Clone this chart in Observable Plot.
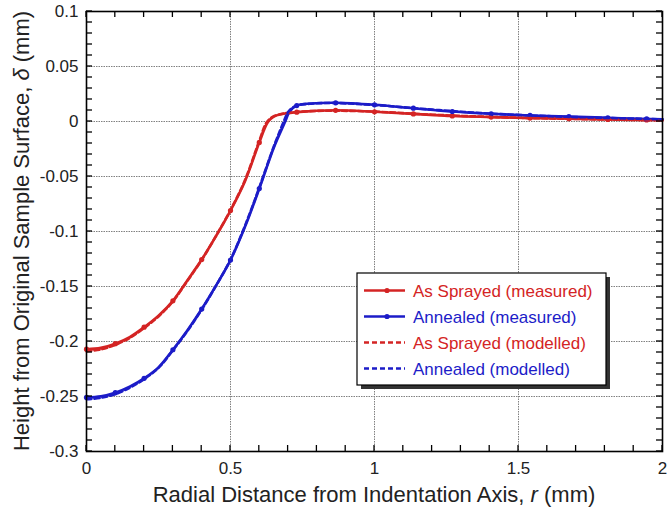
<!DOCTYPE html>
<html>
<head>
<meta charset="utf-8">
<script src="https://cdn.jsdelivr.net/npm/d3@7"></script>
<script src="https://cdn.jsdelivr.net/npm/@observablehq/plot@0.6"></script>
<style>
  html, body { margin: 0; padding: 0; background: #fff; }
  #chart { position: relative; width: 667px; height: 509px; }
</style>
</head>
<body>
<div id="chart"></div>
<script>
// ---- Data ----
// As Sprayed (measured)
const rSprayMeas = [0, 0.05, 0.1, 0.15, 0.2, 0.25, 0.3, 0.35, 0.4, 0.45, 0.5, 0.55, 0.6, 0.63, 0.65, 0.68, 0.73, 0.865, 1.0, 1.135, 1.27, 1.405, 1.54, 1.675, 1.81, 1.945, 2.0];
const dSprayMeas = [-0.2070, -0.2058, -0.2020, -0.1960, -0.1870, -0.1765, -0.1630, -0.1445, -0.1255, -0.1040, -0.0810, -0.0545, -0.0190, -0.0005, 0.0045, 0.0068, 0.0085, 0.0102, 0.0088, 0.0069, 0.0050, 0.0040, 0.0031, 0.0025, 0.0019, 0.0014, 0.0012];
// Annealed (measured)
const rAnnealMeas = [0, 0.05, 0.1, 0.15, 0.2, 0.25, 0.3, 0.35, 0.4, 0.45, 0.5, 0.55, 0.6, 0.65, 0.69, 0.705, 0.73, 0.78, 0.865, 1.0, 1.135, 1.27, 1.405, 1.54, 1.675, 1.81, 1.945, 2.0];
const dAnnealMeas = [-0.2508, -0.2497, -0.2465, -0.2410, -0.2335, -0.2235, -0.2075, -0.1900, -0.1705, -0.1490, -0.1260, -0.0960, -0.0610, -0.0240, 0.0000, 0.0090, 0.0145, 0.0163, 0.0170, 0.0152, 0.0121, 0.0091, 0.0070, 0.0055, 0.0045, 0.0034, 0.0023, 0.0020];
// r positions carrying a marker on the measured curves
const markerR = [0, 0.1, 0.2, 0.3, 0.4, 0.5, 0.6, 0.73, 0.865, 1.0, 1.135, 1.27, 1.405, 1.54, 1.675, 1.81, 1.945];
// As Sprayed (modelled)
const rSprayMod = [0, 0.05, 0.1, 0.15, 0.2, 0.25, 0.3, 0.35, 0.4, 0.45, 0.5, 0.55, 0.6, 0.625, 0.645, 0.68, 0.75, 0.85, 1.0, 1.2, 1.4, 1.6, 1.8, 2.0];
const dSprayMod = [-0.2088, -0.2072, -0.2030, -0.1968, -0.1878, -0.1772, -0.1635, -0.1450, -0.1258, -0.1040, -0.0805, -0.0535, -0.0175, -0.0010, 0.0040, 0.0070, 0.0090, 0.0098, 0.0090, 0.0062, 0.0042, 0.0028, 0.0018, 0.0010];
// Annealed (modelled)
const rAnnealMod = [0, 0.05, 0.1, 0.15, 0.2, 0.25, 0.3, 0.35, 0.4, 0.45, 0.5, 0.55, 0.6, 0.65, 0.685, 0.70, 0.725, 0.78, 0.86, 1.0, 1.2, 1.4, 1.6, 1.8, 2.0];
const dAnnealMod = [-0.2525, -0.2512, -0.2478, -0.2420, -0.2342, -0.2240, -0.2080, -0.1905, -0.1710, -0.1492, -0.1255, -0.0950, -0.0600, -0.0230, 0.0000, 0.0085, 0.0140, 0.0162, 0.0168, 0.0150, 0.0108, 0.0072, 0.0049, 0.0033, 0.0020];

// Axis ticks
const xMajor = [0, 0.5, 1, 1.5, 2];
const yMajor = [-0.3, -0.25, -0.2, -0.15, -0.1, -0.05, 0, 0.05, 0.1];
const xMinor = d3.range(0, 21).map(i => i / 10);
const yMinor = d3.range(-30, 11).map(i => i / 100);

const legendLabels = ["As Sprayed (measured)", "Annealed (measured)", "As Sprayed (modelled)", "Annealed (modelled)"];

const RED = "#d42424";
const BLUE = "#1c1cc8";

const toRows = (rs, ds) => rs.map((r, i) => ({r, d: ds[i]}));
const sprayMeas = toRows(rSprayMeas, dSprayMeas);
const annealMeas = toRows(rAnnealMeas, dAnnealMeas);
const sprayMod = toRows(rSprayMod, dSprayMod);
const annealMod = toRows(rAnnealMod, dAnnealMod);
const isMarker = p => markerR.some(m => Math.abs(m - p.r) < 1e-9);

const fmt = d => String(+(+d).toFixed(2));

const W = 667, H = 509;
const mL = 86, mR = 5, mT = 11, mB = 58;
const TL = 6; // tick length, px

const chart = Plot.plot({
  width: W, height: H,
  marginLeft: mL, marginRight: mR, marginTop: mT, marginBottom: mB,
  style: {fontFamily: "'Liberation Sans', Arial, sans-serif", fontSize: "17px", background: "#fff", color: "#000"},
  x: {domain: [0, 2]},
  y: {domain: [-0.3, 0.1]},
  marks: [
    Plot.gridX(xMajor, {stroke: "#808080", strokeOpacity: 1, strokeWidth: 1, strokeDasharray: "1.5,1"}),
    Plot.gridY(yMajor, {stroke: "#808080", strokeOpacity: 1, strokeWidth: 1, strokeDasharray: "1.5,1"}),
    Plot.axisX(xMajor, {anchor: "bottom", tickSize: 0, tickPadding: 10, tickFormat: fmt, label: null, fontSize: 17}),
    Plot.axisY(yMajor, {anchor: "left", tickSize: 0, tickPadding: 8, tickFormat: fmt, label: null, fontSize: 17}),
    Plot.line(sprayMeas, {x: "r", y: "d", stroke: RED, strokeWidth: 2.6, curve: "catmull-rom"}),
    Plot.line(annealMeas, {x: "r", y: "d", stroke: BLUE, strokeWidth: 2.6, curve: "catmull-rom"}),
    Plot.dot(sprayMeas.filter(isMarker), {x: "r", y: "d", r: 2.6, fill: RED}),
    Plot.dot(annealMeas.filter(isMarker), {x: "r", y: "d", r: 2.6, fill: BLUE}),
    Plot.line(sprayMod, {x: "r", y: "d", stroke: RED, strokeWidth: 2.6, strokeDasharray: "5,3", curve: "catmull-rom"}),
    Plot.line(annealMod, {x: "r", y: "d", stroke: BLUE, strokeWidth: 2.6, strokeDasharray: "5,3", curve: "catmull-rom"}),
    Plot.frame({stroke: "#000", strokeWidth: 1.6})
  ]
});

const svg = d3.select(chart);
svg.selectAll("text").attr("fill", "#222");

// Inward ticks on all four sides, positioned with the chart's own scales
const sx = chart.scale("x"), sy = chart.scale("y");
const x0 = sx.apply(0), x1 = sx.apply(2), yb = sy.apply(-0.3), ytp = sy.apply(0.1);
const tg = svg.append("g").attr("stroke", "#000").attr("stroke-width", 1.3);
xMinor.forEach(v => {
  const px = sx.apply(v);
  tg.append("line").attr("x1", px).attr("x2", px).attr("y1", yb).attr("y2", yb - TL);
  tg.append("line").attr("x1", px).attr("x2", px).attr("y1", ytp).attr("y2", ytp + TL);
});
yMinor.forEach(v => {
  const py = sy.apply(v);
  tg.append("line").attr("x1", x0).attr("x2", x0 + TL).attr("y1", py).attr("y2", py);
  tg.append("line").attr("x1", x1).attr("x2", x1 - TL).attr("y1", py).attr("y2", py);
});

// Axis titles with italic symbols
const xt = svg.append("text")
  .attr("x", (mL + W - mR) / 2).attr("y", 502)
  .attr("text-anchor", "middle")
  .attr("font-size", 22).attr("fill", "#222")
  .attr("font-family", "'Liberation Sans', Arial, sans-serif");
xt.append("tspan").text("Radial Distance from Indentation Axis, ");
xt.append("tspan").attr("font-style", "italic").text("r");
xt.append("tspan").text(" (mm)");

const yt = svg.append("text")
  .attr("transform", `translate(29,${(mT + H - mB) / 2}) rotate(-90)`)
  .attr("text-anchor", "middle")
  .attr("font-size", 22).attr("fill", "#222")
  .attr("font-family", "'Liberation Sans', Arial, sans-serif");
yt.append("tspan").text("Height from Original Sample Surface, ");
yt.append("tspan").attr("font-style", "italic").text("δ");
yt.append("tspan").text(" (mm)");

// Legend
const lg = svg.append("g");
const bx = 357, by = 273, bw = 249, bh = 112;
lg.append("rect").attr("x", bx + 4).attr("y", by + 4).attr("width", bw).attr("height", bh).attr("fill", "#333");
lg.append("rect").attr("x", bx).attr("y", by).attr("width", bw).attr("height", bh).attr("fill", "#fff").attr("stroke", "#000").attr("stroke-width", 1.2);
const legendColors = [RED, BLUE, RED, BLUE];
const legendDashed = [false, false, true, true];
legendLabels.forEach((lab, i) => {
  const y = by + 17.5 + i * 26;
  lg.append("line").attr("x1", bx + 7).attr("x2", bx + 48).attr("y1", y).attr("y2", y)
    .attr("stroke", legendColors[i]).attr("stroke-width", 2.6)
    .attr("stroke-dasharray", legendDashed[i] ? "5,3" : null);
  if (!legendDashed[i]) {
    lg.append("circle").attr("cx", bx + 30).attr("cy", y).attr("r", 2.6).attr("fill", legendColors[i]);
  }
  lg.append("text").attr("x", bx + 56).attr("y", y + 1).attr("dominant-baseline", "central")
    .attr("text-anchor", "start")
    .attr("font-size", 17).attr("fill", legendColors[i])
    .attr("font-family", "'Liberation Sans', Arial, sans-serif")
    .text(lab);
});

document.getElementById("chart").appendChild(chart);
</script>
</body>
</html>
